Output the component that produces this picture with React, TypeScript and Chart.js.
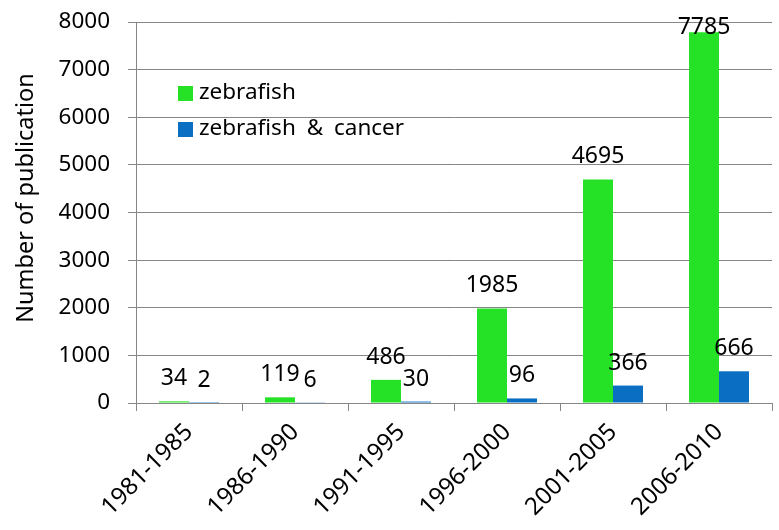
import React, { useEffect, useRef } from "react";
import { Chart, registerables } from "chart.js";

Chart.register(...registerables);

const categories = ["1981-1985", "1986-1990", "1991-1995", "1996-2000", "2001-2005", "2006-2010"];
const zebrafish = [34, 119, 486, 1985, 4695, 7785];
const zebrafishCancer = [2, 6, 30, 96, 366, 666];
const seriesNames = ["zebrafish", "zebrafish & cancer"];
const seriesColors = ["#26E226", "#0A6FC2"];
const yTitle = "Number of publication";

const FONT = "'Noto Sans', sans-serif";

const labelPlugin = {
  id: "valueLabels",
  afterDatasetsDraw(chart: any) {
    const ctx = chart.ctx;
    ctx.save();
    ctx.font = `23px ${FONT}`;
    ctx.fillStyle = "#000";
    ctx.textAlign = "center";
    ctx.textBaseline = "alphabetic";
    chart.data.datasets.forEach((ds: any, i: number) => {
      const meta = chart.getDatasetMeta(i);
      meta.data.forEach((el: any, j: number) => {
        let y = el.y - 16;
        if (y < 34) y = 34;
        ctx.fillText(String(ds.data[j]), el.x, y);
      });
    });
    ctx.restore();
  },
};

const legendPlugin = {
  id: "customLegend",
  afterDraw(chart: any) {
    const ctx = chart.ctx;
    ctx.save();
    ctx.font = `22.5px ${FONT}`;
    ctx.textBaseline = "middle";
    ctx.textAlign = "left";
    try { (ctx as any).wordSpacing = "5px"; } catch (e) {}
    chart.data.datasets.forEach((ds: any, i: number) => {
      const cy = 93 + i * 36;
      ctx.fillStyle = ds.backgroundColor;
      ctx.fillRect(178, cy - 7, 15, 15);
      ctx.fillStyle = "#000";
      ctx.fillText(ds.label, 199, cy);
    });
    ctx.restore();
  },
};

const yTitlePlugin = {
  id: "yTitle",
  afterDraw(chart: any) {
    const ctx = chart.ctx;
    ctx.save();
    ctx.font = `23.5px ${FONT}`;
    ctx.fillStyle = "#000";
    ctx.textAlign = "center";
    ctx.textBaseline = "middle";
    ctx.translate(26, 198);
    ctx.rotate(-Math.PI / 2);
    ctx.fillText(yTitle, 0, 0);
    ctx.restore();
  },
};

export default function App() {
  const ref = useRef<HTMLCanvasElement>(null);
  useEffect(() => {
    if (!ref.current) return;
    const chart = new Chart(ref.current, {
      type: "bar",
      data: {
        labels: categories,
        datasets: [
          { label: seriesNames[0], data: zebrafish, backgroundColor: seriesColors[0] },
          { label: seriesNames[1], data: zebrafishCancer, backgroundColor: seriesColors[1] },
        ],
      },
      options: {
        animation: false,
        responsive: false,
        devicePixelRatio: 1,
        layout: { padding: { top: 22, right: 7, left: 0, bottom: 0 } },
        plugins: { legend: { display: false }, tooltip: { enabled: false } },
        datasets: { bar: { categoryPercentage: 0.566, barPercentage: 1.0 } },
        scales: {
          x: {
            grid: { offset: true, drawOnChartArea: false, color: "#868686", tickLength: 8 },
            border: { color: "#868686" },
            ticks: {
              autoSkip: false,
              minRotation: 45,
              maxRotation: 45,
              color: "#000",
              font: { family: FONT, size: 24 },
              padding: 7,
            },
            afterFit: (s: any) => {
              s.height = 127;
              s.paddingLeft = 0;
              s.paddingRight = 0;
            },
          },
          y: {
            min: 0,
            max: 8000,
            ticks: {
              stepSize: 1000,
              color: "#000",
              font: { family: FONT, size: 22.5 },
              padding: 18,
              callback: (v: any) => String(v),
            },
            grid: { color: "#868686", tickLength: 8 },
            border: { color: "#868686" },
            afterFit: (s: any) => {
              s.width = 136;
              s.paddingTop = 0;
              s.paddingBottom = 0;
            },
          },
        },
      },
      plugins: [labelPlugin, legendPlugin, yTitlePlugin],
    });
    return () => chart.destroy();
  }, []);
  return (
    <div style={{ position: "fixed", left: 0, top: 0, width: 779, height: 530, background: "#fff" }}>
      <canvas ref={ref} width={779} height={530} style={{ width: 779, height: 530 }} />
    </div>
  );
}
